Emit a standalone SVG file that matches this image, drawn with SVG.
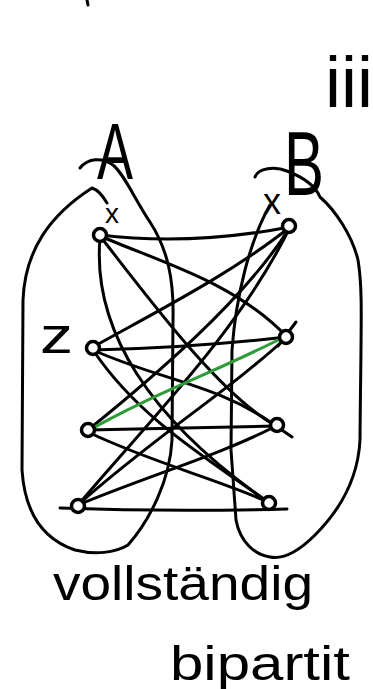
<svg xmlns="http://www.w3.org/2000/svg" width="373" height="689" viewBox="0 0 373 689">
<style>
.s{fill:none;stroke:#000;stroke-width:3;stroke-linecap:round;stroke-linejoin:round}
.g{fill:none;stroke:#2e9a3a;stroke-width:3;stroke-linecap:round}
.n{fill:#fff;stroke:#000;stroke-width:3.5}
.t{font-family:"Liberation Sans","DejaVu Sans",sans-serif;fill:#000}
</style>
<rect width="373" height="689" fill="#fff"/>
<path class="s" d="M87,0 L88,5"/>
<text class="t" x="325" y="107" font-size="72">iii</text>
<g id="enclosures">
<path class="s" d="M80,168 C88,158 102,157 113,165 C125,175 135,200 150,222 C168,250 174,280 173,320 L172,440 C170,480 150,520 128,545 C115,553 95,555 75,550 C45,540 25,515 22,470 L23,300 C25,250 50,215 92,188 C98,190 103,196 107,203"/>
<path class="s" d="M255,177 C258,168 275,166 287,171 C300,176 315,185 320,197 C335,210 352,235 358,260 C363,290 361,320 360,440 C358,480 340,510 315,535 C300,550 285,560 270,557 C255,555 240,542 236,520 L231,450 L232,350 C236,295 250,240 270,205"/>
</g>
<g id="labels">
<text class="t" x="97" y="179" font-size="80" textLength="36" lengthAdjust="spacingAndGlyphs">A</text>
<text class="t" x="284" y="195" font-size="90" textLength="40" lengthAdjust="spacingAndGlyphs">B</text>
<text class="t" x="112" y="223" font-size="28" text-anchor="middle">x</text>
<text class="t" x="272" y="214" font-size="36" text-anchor="middle">x</text>
<text class="t" x="40" y="353" font-size="52" textLength="33" lengthAdjust="spacingAndGlyphs">z</text>
<text class="t" x="53" y="600" font-size="48" textLength="260" lengthAdjust="spacingAndGlyphs">vollständig</text>
<text class="t" x="170" y="680" font-size="48" textLength="180" lengthAdjust="spacingAndGlyphs">bipartit</text>
</g>
<g id="edges">
<path class="s" d="M100,235 Q190,246 290,227"/>
<path class="s" d="M100,236 C160,262 235,282 287,337"/>
<path class="s" d="M100,236 C150,300 220,395 276,426"/>
<path class="s" d="M100,238 C92,330 150,420 268,502"/>
<path class="s" d="M93,347 C150,315 230,275 290,227"/>
<path class="s" d="M93,350 Q190,348 287,337"/>
<path class="s" d="M93,350 C160,380 220,385 276,426"/>
<path class="s" d="M93,350 C140,420 210,460 268,502"/>
<path class="s" d="M88,430 C150,380 245,300 290,227"/>
<path class="s" d="M88,430 Q180,428 276,426 L292,437"/>
<path class="s" d="M88,432 C150,462 220,480 268,502"/>
<path class="s" d="M78,505 C150,420 240,330 290,227"/>
<path class="s" d="M78,505 C150,440 230,390 287,337"/>
<path class="s" d="M78,505 C150,475 220,455 276,426"/>
<path class="s" d="M60,508 Q170,512 287,509"/>
<path class="s" d="M278,346 L296,322"/>
<path class="g" d="M86,432 C150,395 220,370 282,338"/>
</g>
<g id="nodes">
<circle id="a1" class="n" cx="100" cy="235" r="6.5"/>
<circle id="a2" class="n" cx="93" cy="348" r="6.5"/>
<circle id="a3" class="n" cx="88" cy="430" r="6.5"/>
<circle id="a4" class="n" cx="78" cy="506" r="6.5"/>
<circle id="b1" class="n" cx="289" cy="226" r="6.5"/>
<circle id="b2" class="n" cx="286" cy="337" r="6.5"/>
<circle id="b3" class="n" cx="277" cy="425" r="6.5"/>
<circle id="b4" class="n" cx="269" cy="503" r="6.5"/>
</g>
</svg>
